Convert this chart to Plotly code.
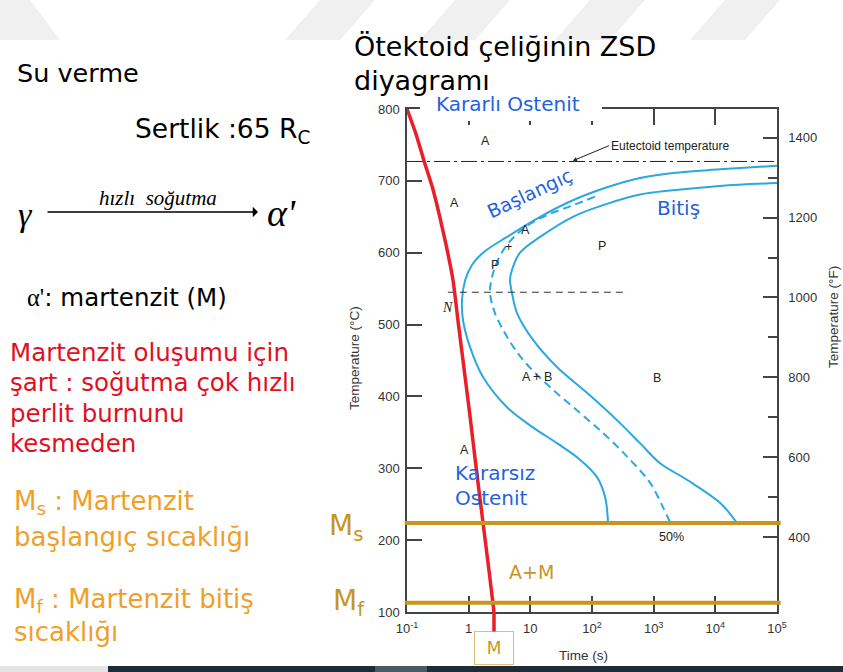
import math
import plotly.graph_objects as go

# ---------------- data ----------------
x_tickvals = [0.1, 1, 10, 100, 1000, 10000, 100000]
x_ticktext = ["10<sup>-1</sup>", "1", "10", "10<sup>2</sup>", "10<sup>3</sup>", "10<sup>4</sup>", "10<sup>5</sup>"]
c_tickvals = [100, 200, 300, 400, 500, 600, 700, 800]
f_tickvals = [400, 600, 800, 1000, 1200, 1400]
f_minor = [500, 700, 900, 1100, 1300]
c_range = [100, 800]
f_range = [212, 1472]

# transformation start (Başlangıç)
start_t = [100000, 11900, 2055, 600, 175, 49, 14.4, 4.19, 1.71, 1.13, 0.88, 0.78, 0.81, 1.05, 1.71, 4.19, 11.0, 27, 64, 120, 163, 182]
start_T = [721, 716, 711, 704, 691, 673, 650, 622, 600, 583, 562, 534, 506, 469, 427, 385, 357, 335, 312, 288, 260, 224]
# transformation finish (Bitiş)
finish_t = [100000, 11900, 2055, 600, 175, 49, 14.4, 6.8, 5.04, 4.68, 5.04, 6.08, 11.0, 27, 83, 254, 600, 1270, 3470, 11900, 22400]
finish_T = [697, 693, 687, 681, 668, 650, 622, 600, 576, 562, 544, 516, 479, 441, 405, 367, 335, 307, 284, 252, 224]
# 50 % curve
half_t = [112, 49, 20.8, 9.87, 6.08, 3.88, 2.88, 2.39, 2.22, 2.67, 4.19, 7.6, 20.8, 64, 175, 413, 871, 1416, 1841]
half_T = [678, 666, 654, 640, 626, 607, 587, 566, 544, 516, 483, 451, 413, 377, 344, 312, 280, 246, 225]
# cooling curve (red)
cool_t = [0.1, 0.14, 0.19, 0.26, 0.34, 0.44, 0.557, 0.683, 0.838, 1.06, 1.37, 1.71, 2.12, 2.575]
cool_T = [800, 765, 727, 690, 650, 607, 562, 500, 440, 370, 290, 224, 160, 100]

eutectoid_T = 727
ms_T = 224
mf_T = 113
nose_line_t = [0.46, 384]
nose_line_T = [545, 545]

label_text = ["A", "A", "P", "P", "+", "A", "A + B", "B", "A", "50%"]
label_t = [1.84, 0.60, 145, 2.67, 4.35, 8.2, 12.8, 1130, 0.84, 1980]
label_T = [755, 669, 609, 583, 608, 632, 427, 426, 326, 204]

# ---------------- styling ----------------
W, H = 843, 672
ML, MR, MT, MB = 407, 66, 109, 60
PW, PH = W - ML - MR, H - MT - MB


def P(x, y):
    return (x - ML) / PW, (H - MB - y) / PH


COMIC = "DejaVu Sans"
SERIF = "Liberation Serif"
HELV = "Liberation Sans"
BLUE_LINE = "#2aa8e0"
BLUE_TXT = "#1f63df"
GOLD = "#c8961e"
GOLD_TXT = "#f0a028"
RED = "#e8202a"
RED_TXT = "#e2101f"
AX = "#444444"

fig = go.Figure()

fig.add_trace(go.Scatter(x=start_t, y=start_T, mode="lines", line=dict(color=BLUE_LINE, width=2, shape="spline", smoothing=1.0), hoverinfo="skip"))
fig.add_trace(go.Scatter(x=finish_t, y=finish_T, mode="lines", line=dict(color=BLUE_LINE, width=2, shape="spline", smoothing=1.0), hoverinfo="skip"))
fig.add_trace(go.Scatter(x=half_t, y=half_T, mode="lines", line=dict(color=BLUE_LINE, width=2, dash="8px,5px", shape="spline", smoothing=1.0), hoverinfo="skip"))
fig.add_trace(go.Scatter(x=[x_tickvals[0], x_tickvals[-1]], y=[eutectoid_T, eutectoid_T], mode="lines", line=dict(color="#222", width=1, dash="16px,4px,3px,4px"), hoverinfo="skip"))
fig.add_trace(go.Scatter(x=nose_line_t, y=nose_line_T, mode="lines", line=dict(color="#333", width=1, dash="7px,5px"), hoverinfo="skip"))
fig.add_trace(go.Scatter(x=cool_t, y=cool_T, mode="lines", line=dict(color=RED, width=3.5, shape="spline", smoothing=0.6), hoverinfo="skip"))
fig.add_trace(go.Scatter(x=[], y=[], yaxis="y2", hoverinfo="skip"))

shapes = []
for T in (ms_T, mf_T):
    shapes.append(dict(type="line", xref="paper", yref="y", x0=-0.006, x1=1.01, y0=T, y1=T,
                       line=dict(color=GOLD, width=4), layer="above"))

# white box behind "Kararlı Ostenit"
x0, y0 = P(420, 92)
x1, y1 = P(602, 121)
shapes.append(dict(type="rect", xref="paper", yref="paper", x0=x0, x1=x1, y0=y1, y1=y0,
                   fillcolor="white", line=dict(width=0), layer="above"))

# faint chevrons at top of slide
for xs in [(-20, 45), (285, 340), (420, 475), (555, 610), (690, 745)]:
    a, b = xs
    if a < 0:
        pts = [P(0, 0), P(30, 0), P(60, 40), P(0, 40)]
    else:
        pts = [P(a + 35, 0), P(b + 35, 0), P(b, 40), P(a, 40)]
    path = "M " + " L ".join(f"{px},{py}" for px, py in pts) + " Z"
    shapes.append(dict(type="path", xref="paper", yref="paper", path=path,
                       fillcolor="#f0f0f0", line=dict(width=0), layer="below"))

# bottom bar
for (a, b, col) in [(0, 108, "#e4e4e4"), (108, 375, "#1e2c36"), (375, 427, "#4c5a62"), (427, 843, "#1e2c36")]:
    xa, ya = P(a, 666)
    xb, yb = P(b, 672)
    shapes.append(dict(type="rect", xref="paper", yref="paper", x0=xa, x1=xb, y0=yb, y1=ya,
                       fillcolor=col, line=dict(width=0), layer="below"))

ann = []


def txt(text, x, y, size, color="black", family=COMIC, xanchor="left", angle=0, style="normal"):
    px, py = P(x, y)
    ann.append(dict(text=text, x=px, y=py, xref="paper", yref="paper", showarrow=False,
                    xanchor=xanchor, yanchor="middle", textangle=angle,
                    font=dict(size=size, color=color, family=family, style=style)))


# slide texts
txt("Ötektoid çeliğinin ZSD", 352, 47, 27)
txt("diyagramı", 352, 81, 27)
txt("Su verme", 15, 73, 25.5)
txt("Sertlik :65 R<sub>C</sub>", 133, 130, 26.5)
txt("γ", 16, 214, 34, family=SERIF, style="italic")
txt("hızlı&nbsp;&nbsp;soğutma", 158, 198, 21, family=SERIF, style="italic", xanchor="center")
txt("α'", 265, 213, 38, family=SERIF, style="italic")
ax0, ay0 = P(258, 212)
ann.append(dict(text="", x=ax0, y=ay0, xref="paper", yref="paper", showarrow=True, ax=-212, ay=0,
                arrowhead=1, arrowsize=1.1, arrowwidth=1.6, arrowcolor="black", standoff=0))
txt("<span style='font-family:Liberation Serif'>α'</span>: martenzit (M)", 25, 297, 24.5)

for i, line in enumerate(["Martenzit oluşumu için", "şart : soğutma çok hızlı", "perlit burnunu", "kesmeden"]):
    txt(line, 8, 352 + 30.5 * i, 24.5, RED_TXT)
txt("M<sub>s</sub> : Martenzit", 12, 502, 26, GOLD_TXT)
txt("başlangıç sıcaklığı", 12, 537, 26, GOLD_TXT)
txt("M<sub>f</sub> : Martenzit bitiş", 12, 600, 26, GOLD_TXT)
txt("sıcaklığı", 12, 632, 26, GOLD_TXT)

# plot-side texts in paper coords
txt("Kararlı Ostenit", 508, 104, 20, BLUE_TXT, xanchor="center")
txt("M<sub>s</sub>", 327, 527, 28, GOLD)
txt("M<sub>f</sub>", 331, 602, 28, GOLD)
txt("Temperature (°C)", 354, 358, 13.5, "#333", HELV, xanchor="center", angle=-90)
txt("Temperature (°F)", 833, 317, 13.5, "#333", HELV, xanchor="center", angle=-90)
txt("Time (s)", 583, 655, 13.5, "#333", HELV, xanchor="center")

# "M" box linked to the cooling curve end
ann.append(dict(text="M", x=math.log10(cool_t[-1]), y=cool_T[-1], xref="x", yref="y",
                showarrow=True, ax=0, ay=36, arrowhead=0, arrowwidth=3.5, arrowcolor=RED, standoff=0,
                bordercolor="#d9bf7a", borderwidth=1, bgcolor="white", width=36, height=30,
                font=dict(size=17, color=GOLD, family=COMIC)))

# data-space labels
for t, T, s in zip(label_t, label_T, label_text):
    ann.append(dict(text=s, x=math.log10(t), y=T, xref="x", yref="y", showarrow=False,
                    font=dict(size=12.5, color="#222", family=HELV)))
ann.append(dict(text="N", x=math.log10(0.46), y=524, xref="x", yref="y", showarrow=False,
                font=dict(size=14, color="#222", family=SERIF, style="italic")))
ann.append(dict(text="Başlangıç", x=math.log10(9.87), y=683, xref="x", yref="y", showarrow=False, textangle=-25,
                font=dict(size=19, color=BLUE_TXT, family=COMIC)))
ann.append(dict(text="Bitiş", x=math.log10(2570), y=662, xref="x", yref="y", showarrow=False,
                font=dict(size=20, color=BLUE_TXT, family=COMIC)))
ann.append(dict(text="Kararsız", x=math.log10(0.557), y=294, xref="x", yref="y", showarrow=False, xanchor="left",
                font=dict(size=20, color=BLUE_TXT, family=COMIC)))
ann.append(dict(text="Ostenit", x=math.log10(0.557), y=259, xref="x", yref="y", showarrow=False, xanchor="left",
                font=dict(size=20, color=BLUE_TXT, family=COMIC)))
ann.append(dict(text="A+M", x=math.log10(10.3), y=156, xref="x", yref="y", showarrow=False,
                font=dict(size=19, color=GOLD, family=COMIC)))
ann.append(dict(text="Eutectoid temperature", x=math.log10(49), y=eutectoid_T + 1, xref="x", yref="y",
                showarrow=True, ax=36, ay=-15, xanchor="left", arrowhead=2, arrowsize=0.8, arrowwidth=1,
                arrowcolor="#222", standoff=0, font=dict(size=12, color="#222", family=HELV)))

axis_common = dict(showgrid=False, zeroline=False, showline=True, linecolor=AX, linewidth=1.5,
                   ticks="inside", tickcolor=AX, tickwidth=1.5,
                   tickfont=dict(size=13, color="#333", family=HELV))

fig.update_layout(
    width=W, height=H, margin=dict(l=ML, r=MR, t=MT, b=MB),
    paper_bgcolor="white", plot_bgcolor="white", showlegend=False,
    xaxis=dict(type="log", range=[math.log10(x_tickvals[0]), math.log10(x_tickvals[-1])],
               tickmode="array", tickvals=x_tickvals, ticktext=x_ticktext, ticklen=16,
               mirror="ticks", ticklabelstandoff=4, **axis_common),
    yaxis=dict(range=c_range, tickmode="array", tickvals=c_tickvals, ticklen=15, ticklabelstandoff=3, **axis_common),
    yaxis2=dict(overlaying="y", side="right", range=f_range, tickmode="array", tickvals=f_tickvals, ticklen=14,
                ticklabelstandoff=7,
                minor=dict(tickmode="array", tickvals=f_minor, ticklen=9, ticks="inside", tickcolor=AX, tickwidth=1.5),
                **axis_common),
    shapes=shapes, annotations=ann,
)

fig.write_html("out.html", config={"displayModeBar": False},
               post_script="document.body.style.margin='0';document.body.style.overflow='hidden';")
